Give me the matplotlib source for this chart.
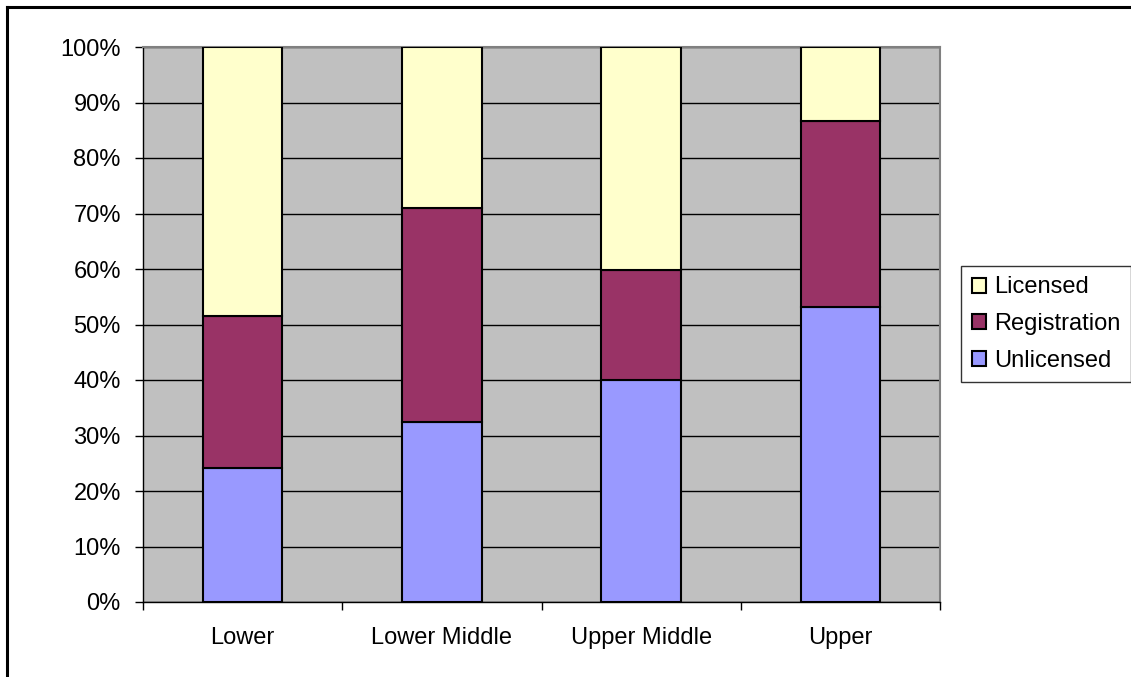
import numpy as np
import matplotlib.pyplot as plt
from matplotlib.lines import Line2D

plt.rcParams['font.family'] = ['Liberation Sans', 'DejaVu Sans']

categories = ["Lower", "Lower Middle", "Upper Middle", "Upper"]
unlicensed = [24.1, 32.4, 40.0, 53.2]
registration = [27.4, 38.6, 19.8, 33.5]
licensed = [48.5, 29.0, 40.2, 13.3]

fig = plt.figure(figsize=(11.31, 6.77), dpi=100)
ax = fig.add_axes([143/1131, 1 - 602/677, 797/1131, 555/677])
ax.set_facecolor('#C0C0C0')

x = np.arange(len(categories))
w = 0.4
b1 = np.array(unlicensed)
b2 = b1 + np.array(registration)
ax.bar(x, unlicensed, w, color='#9999FF', edgecolor='black', lw=1.5, label='Unlicensed', zorder=3)
ax.bar(x, registration, w, bottom=b1, color='#993366', edgecolor='black', lw=1.5, label='Registration', zorder=3)
ax.bar(x, licensed, w, bottom=b2, color='#FFFFCC', edgecolor='black', lw=1.5, label='Licensed', zorder=3)

ax.set_xlim(-0.5, 3.5)
ax.set_ylim(0, 100)
ax.set_yticks(np.arange(0, 101, 10))
ax.set_yticklabels([f"{v}%" for v in range(0, 101, 10)])
ax.yaxis.grid(True, color='black', lw=1)
ax.set_axisbelow(True)

ax.set_xticks(x)
ax.set_xticklabels(categories)
ax.set_xticks(np.arange(-0.5, 4, 1), minor=True)
ax.tick_params(axis='x', which='major', length=0, pad=18, labelsize=17)
ax.tick_params(axis='x', which='minor', length=6, width=1, color='black', direction='out')
ax.tick_params(axis='y', length=6, width=1, pad=10, labelsize=17)

for s in ax.spines.values():
    s.set_color('#808080')
    s.set_linewidth(1.5)
ax.spines['left'].set_color('black')
ax.spines['bottom'].set_color('black')
ax.spines['left'].set_linewidth(1)
ax.spines['bottom'].set_linewidth(1)

h, l = ax.get_legend_handles_labels()
leg = fig.legend(h[::-1], l[::-1], loc='center left', bbox_to_anchor=(961/1131, 1 - 324/677),
                 fontsize=17, frameon=True, fancybox=False, edgecolor='black',
                 handlelength=0.6, handleheight=0.6, handletextpad=0.35, borderpad=0.45,
                 labelspacing=0.62, borderaxespad=0)
leg.get_frame().set_linewidth(1)

# outer chart border (only top and left are visible)
fig.add_artist(Line2D([7/1131, 1], [1 - 7/677, 1 - 7/677], color='black', lw=2.2, transform=fig.transFigure))
fig.add_artist(Line2D([7/1131, 7/1131], [0, 1 - 7/677], color='black', lw=2.2, transform=fig.transFigure))

fig.savefig('out.png', dpi=100)
